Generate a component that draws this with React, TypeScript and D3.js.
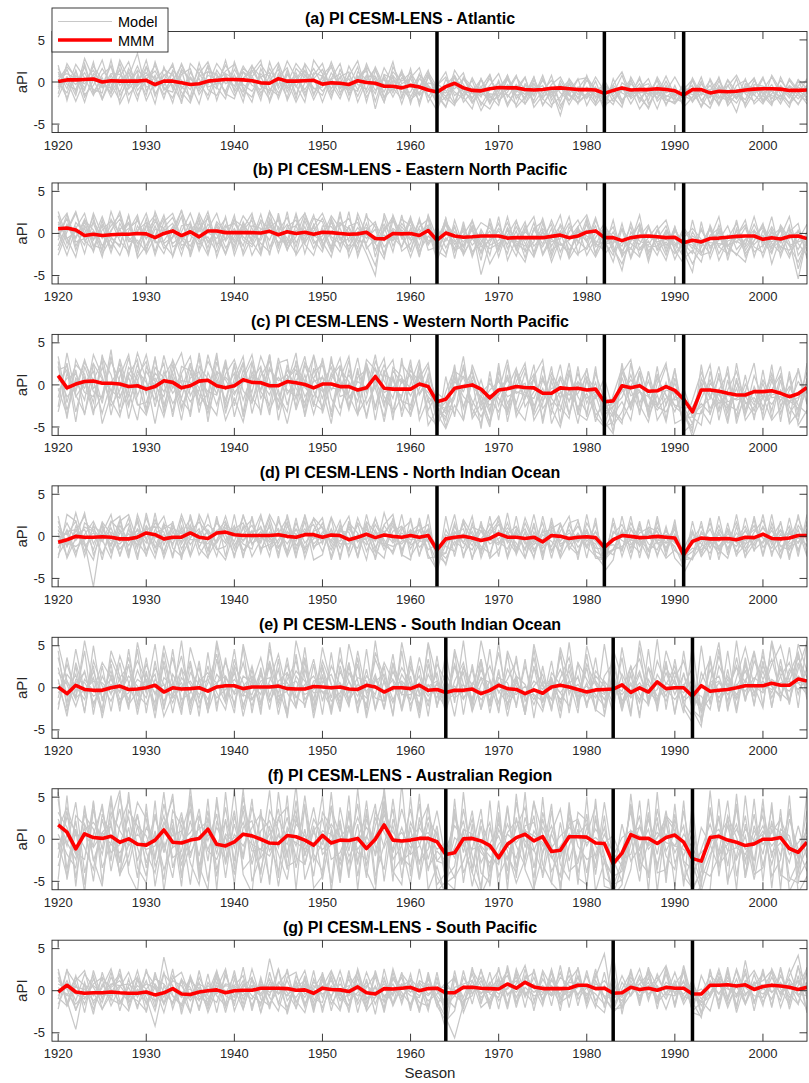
import React from "react";
import * as d3 from "d3";

// seasons on the x axis
const seasons = d3.range(1920, 2006);
const xTicks = [1920, 1930, 1940, 1950, 1960, 1970, 1980, 1990, 2000];
const yTicks = [-5, 0, 5];

const panelTitles = [
  "(a) PI CESM-LENS - Atlantic",
  "(b) PI CESM-LENS - Eastern North Pacific",
  "(c) PI CESM-LENS - Western North Pacific",
  "(d) PI CESM-LENS - North Indian Ocean",
  "(e) PI CESM-LENS - South Indian Ocean",
  "(f) PI CESM-LENS - Australian Region",
  "(g) PI CESM-LENS - South Pacific",
];

// volcanic eruption seasons (vertical black lines)
const northEruptions = [1963, 1982, 1991];
const southEruptions = [1964, 1983, 1992];

// multi-model mean (red)
const atlanticMMM = [
  0.05, 0.25, 0.25, 0.3, 0.35, 0.0, 0.15, 0.1, 0.1, 0.1,
  0.2, -0.3, 0.1, 0.1, -0.1, -0.3, -0.2, 0.1, 0.2, 0.3,
  0.3, 0.25, 0.15, -0.1, -0.15, 0.4, 0.1, 0.1, 0.15, 0.2,
  -0.25, -0.1, -0.15, -0.3, 0.15, -0.05, -0.15, -0.5, -0.5, -0.7,
  -0.4, -0.6, -0.95, -1.2, -0.55, -0.15, -0.7, -1.0, -1.05, -0.8,
  -0.65, -0.7, -0.7, -0.9, -0.95, -0.9, -0.75, -0.7, -0.8, -0.9,
  -0.9, -0.95, -1.35, -1.0, -0.7, -0.95, -0.9, -0.9, -0.8, -0.9,
  -1.05, -1.55, -0.9, -0.9, -1.3, -1.1, -1.15, -1.1, -0.95, -0.85,
  -0.8, -0.8, -0.85, -1.0, -1.0, -0.95,
];
const enpMMM = [
  0.55, 0.65, 0.4, -0.25, -0.1, -0.25, -0.15, -0.1, -0.1, 0.0,
  -0.05, -0.5, 0.0, 0.3, -0.25, 0.2, -0.4, 0.3, 0.3, 0.1,
  0.1, 0.1, 0.1, 0.05, 0.25, -0.15, 0.2, 0.0, 0.15, -0.1,
  0.15, 0.1, 0.0, -0.1, -0.05, 0.15, -0.6, -0.65, 0.0, -0.05,
  0.0, -0.25, 0.35, -0.8, 0.05, -0.3, -0.45, -0.4, -0.3, -0.3,
  -0.3, -0.55, -0.5, -0.5, -0.5, -0.5, -0.35, -0.2, -0.5, -0.3,
  0.15, 0.3, -0.5, -0.5, -0.85, -0.5, -0.35, -0.3, -0.4, -0.5,
  -0.45, -1.1, -0.8, -1.0, -0.6, -0.55, -0.45, -0.35, -0.3, -0.3,
  -0.7, -0.5, -0.65, -0.35, -0.3, -0.6,
];
const wnpMMM = [
  1.1, -0.35, 0.1, 0.4, 0.45, 0.2, 0.2, 0.1, -0.2, -0.1,
  -0.5, -0.2, 0.5, 0.3, -0.35, -0.1, 0.45, 0.55, -0.1, -0.35,
  -0.1, 0.6, 0.3, 0.25, -0.1, -0.1, 0.4, 0.25, 0.05, -0.35,
  0.1, 0.1, -0.2, -0.2, -0.6, -0.35, 1.0, -0.4, -0.5, -0.5,
  -0.5, 0.1, -0.2, -2.0, -1.7, -0.4, -0.2, 0.0, -0.5, -1.55,
  -0.6, -0.45, -0.2, -0.3, -0.35, -1.0, -1.0, -0.35, -0.45, -0.4,
  -0.6, -0.5, -2.0, -1.9, -0.1, -0.35, -0.1, -0.75, -0.7, -0.2,
  -0.65, -1.7, -3.2, -0.6, -0.6, -0.75, -1.0, -1.2, -1.2, -0.8,
  -0.8, -0.7, -1.0, -1.4, -1.05, -0.3,
];
const nioMMM = [
  -0.7, -0.4, 0.0, -0.1, -0.1, -0.05, -0.1, -0.3, -0.3, -0.1,
  0.4, 0.2, -0.3, -0.1, -0.1, 0.4, -0.1, -0.25, 0.4, 0.5,
  0.2, 0.1, 0.1, 0.1, 0.1, 0.2, 0.0, -0.1, 0.2, 0.2,
  -0.1, 0.15, 0.1, -0.4, -0.1, 0.25, -0.15, 0.15, 0.0, -0.1,
  0.1, -0.1, 0.1, -1.6, -0.3, -0.1, 0.0, -0.2, -0.5, -0.25,
  0.3, -0.1, -0.1, -0.25, -0.1, -0.65, 0.1, 0.0, -0.25, -0.1,
  -0.05, -0.15, -1.3, -0.4, 0.1, 0.0, -0.15, -0.1, 0.0, -0.1,
  -0.2, -2.2, -0.6, -0.2, -0.3, -0.3, -0.25, -0.4, -0.1, -0.15,
  0.25, -0.25, -0.3, -0.2, 0.1, 0.1,
];
const sioMMM = [
  0.1, -0.7, 0.3, -0.2, -0.3, -0.3, 0.0, 0.2, -0.2, -0.15,
  0.0, 0.3, -0.5, 0.0, -0.15, -0.1, 0.0, -0.4, 0.1, 0.25,
  0.25, -0.1, 0.1, 0.1, 0.1, 0.2, -0.1, -0.15, -0.15, 0.15,
  0.1, 0.0, 0.1, -0.15, -0.2, 0.3, 0.1, -0.5, 0.0, 0.0,
  -0.1, 0.3, -0.3, -0.2, -0.55, -0.3, -0.3, -0.15, -0.7, -0.3,
  0.3, -0.1, -0.2, -0.7, -0.25, -0.65, 0.1, 0.3, 0.1, -0.2,
  -0.5, -0.25, -0.2, -0.15, 0.35, -0.55, 0.0, -0.5, 0.7, -0.1,
  0.0, 0.0, -1.0, 0.25, -0.4, -0.3, -0.2, 0.0, 0.25, 0.25,
  0.25, 0.55, 0.3, 0.3, 1.05, 0.8,
];
const ausMMM = [
  1.7, 0.85, -1.15, 0.65, 0.2, 0.1, 0.35, -0.35, 0.05, -0.6,
  -0.7, -0.1, 1.1, -0.35, -0.45, -0.1, 0.1, 1.2, -0.6, -0.8,
  -0.3, 0.6, 0.4, 0.0, -0.45, -0.5, 0.45, 0.3, -0.1, -0.7,
  0.45, -0.45, -0.1, -0.15, 0.1, -1.1, 0.0, 1.7, -0.1, -0.2,
  -0.1, 0.1, 0.1, -0.3, -1.8, -1.6, 0.05, 0.1, -0.2, -0.75,
  -2.2, -0.6, 0.2, 0.6, -0.2, 0.3, -1.45, -1.3, 0.3, 0.3,
  0.25, -0.45, -0.5, -2.9, -1.65, 0.55, 0.1, 0.1, -0.5, 0.2,
  0.5, -0.35, -2.3, -2.6, 0.2, 0.35, -0.1, -0.35, -0.75, -0.55,
  0.0, 0.0, 0.2, -1.1, -1.55, -0.35,
];
const spMMM = [
  -0.15, 0.65, -0.15, -0.3, -0.25, -0.25, -0.15, -0.25, -0.3, -0.3,
  -0.15, -0.5, -0.25, 0.25, -0.4, -0.45, -0.15, 0.0, 0.1, -0.25,
  0.0, 0.05, 0.05, 0.3, 0.3, 0.3, 0.25, 0.05, 0.1, -0.3,
  0.3, 0.15, 0.1, -0.1, 0.45, -0.25, -0.4, 0.25, 0.2, 0.3,
  0.4, 0.0, 0.25, 0.3, -0.25, -0.25, 0.4, 0.4, 0.3, 0.25,
  0.2, 0.8, 0.3, 1.0, 0.45, 0.25, 0.25, 0.25, 0.3, 0.65,
  0.65, 0.25, 0.3, -0.3, -0.25, 0.4, 0.15, 0.3, 0.05, 0.4,
  0.3, 0.3, -0.4, -0.4, 0.65, 0.65, 0.7, 0.55, 0.7, 0.15,
  0.5, 0.65, 0.55, 0.4, 0.15, 0.4,
];

// ensemble members (grey), estimated to cover the spread seen in each panel
const atlanticModel = [
  [1.2,-0.8,2.1,0.5,-1.6,0.9,1.8,-0.4,0.6,3.4, -1.1,0.8,-2.0,1.4,0.2,-0.9,1.6,-0.3,2.2,0.7, -0.5,1.9,0.3,-1.7,0.8,2.3,-0.6,1.1,-1.3,0.4, 1.5,-0.8,0.6,-2.2,1.2,0.3,-1.4,1.7,-0.2,0.9, -1.8,0.4,-0.7,-2.4,0.3,-1.2,-2.0,0.5,-1.6,-0.4, 1.0,-1.8,-0.3,-2.1,0.2,-1.4,-0.6,-2.3,0.4,-1.1, -2.0,0.1,-2.6,-0.3,1.2,-1.5,-0.2,-2.2,0.6,-1.3, -0.8,-2.7,0.5,-1.6,-0.4,-2.0,0.3,-1.2,-2.1,0.2, -1.5,-0.3,-2.2,0.4,-1.0,-1.8],
  [-0.6,1.5,-1.2,2.8,0.4,-2.1,0.3,1.4,-1.5,-0.2, 1.8,-1.7,0.9,-0.4,-2.3,1.2,-0.8,2.0,-0.3,1.3, 2.1,-0.9,-1.8,1.0,-0.2,0.6,1.7,-1.5,0.9,-0.7, -1.6,1.1,-0.5,0.7,2.5,-1.3,0.6,-1.9,-0.7,-2.0, 0.8,-1.5,1.2,-0.6,-2.2,1.4,-0.3,-1.9,-0.5,-2.6, -0.7,0.6,-2.0,-0.4,-1.7,0.8,-2.2,-0.5,-1.6,0.3, 0.5,-1.9,-0.4,-2.3,-1.0,0.3,-2.4,-0.6,-1.5,0.7, -1.7,-0.5,-2.3,-0.2,-1.8,0.6,-2.5,-0.4,0.2,-1.6, 0.4,-2.0,-0.6,-1.9,0.3,-0.8],
  [0.3,-1.9,0.8,-0.7,1.9,0.2,-1.3,0.6,2.4,-1.0, 0.4,1.3,-0.6,-1.9,0.9,1.6,-1.5,0.2,-0.8,2.6, -1.2,0.5,1.4,-0.3,-2.1,1.0,-0.8,0.3,2.0,-1.4, 0.6,-2.0,1.5,-0.6,-1.1,2.2,-0.4,0.3,-1.8,0.5, -0.3,-2.3,0.6,-0.9,-1.7,-0.2,1.1,-2.4,-0.7,0.9, -2.4,-0.3,-1.2,0.5,-2.5,-1.0,0.2,-1.3,-2.2,-0.6, -1.1,-2.4,0.2,-1.7,-0.6,-2.6,-0.8,0.4,-2.3,-1.1, 0.6,-1.3,-1.9,0.1,-2.6,-1.1,-0.5,0.8,-1.4,-2.3, -0.9,0.6,-1.5,-2.5,-0.4,0.2],
  [-1.8,0.6,-0.3,1.1,-0.9,-1.3,2.6,-1.6,0.2,1.2, -2.2,0.1,1.5,0.8,-1.2,-2.5,0.7,1.2,1.0,-1.5, 0.9,-1.7,0.6,2.1,0.5,-1.3,0.2,-2.4,-0.1,1.6, -0.4,0.4,-1.6,1.9,-0.3,-0.9,1.8,-0.5,0.7,-2.6, 0.5,1.7,-1.8,-0.2,-1.0,-2.6,-1.3,0.2,-2.8,-0.9, -0.1,-2.9,-0.8,-1.5,0.6,-2.7,-1.1,-3.2,-0.7,-1.9, 0.2,-0.8,-1.6,-2.7,-0.1,-0.9,-1.9,-3.0,-0.4,-2.2, -2.4,-0.9,0.3,-2.2,-3.1,-0.6,-1.6,-2.5,-0.8,0.5, -2.3,-1.4,0.2,-1.2,-2.7,-0.5],
  [0.9,0.2,-2.3,0.3,1.4,-0.5,-0.7,2.2,-0.8,0.4, 1.1,-0.6,0.2,-2.5,1.5,0.3,-0.2,-1.6,1.4,-0.2, 0.3,1.2,-0.4,-0.9,1.6,-0.4,2.5,0.5,-0.9,0.8, 2.2,-1.2,0.1,-0.8,0.6,1.3,-2.3,0.9,0.4,-1.2, -1.2,0.9,-0.4,-1.5,-2.9,-0.3,-1.6,-0.8,-3.4,-1.4, -1.6,-0.9,0.8,-2.6,-1.1,-0.4,-2.7,-1.8,-0.1,-2.0, -0.6,-1.4,-2.0,-1.0,-2.1,-1.3,0.3,-1.6,-1.0,-2.6, -1.2,-1.9,-1.1,-2.9,0.4,-1.7,-2.2,-0.9,-1.2,-1.5, -2.6,-0.7,-1.1,-0.5,-1.6,-2.2],
  [-0.2,-1.3,1.3,-1.5,-0.4,1.6,-0.2,-2.2,1.2,-1.6, 0.2,2.0,-1.0,0.4,-0.5,-1.8,2.3,-0.9,-1.6,0.5, -1.6,0.2,2.0,-0.5,-1.0,0.4,-1.9,1.6,0.5,-2.1, 0.1,1.8,-0.8,0.4,-1.7,0.6,0.7,-1.2,1.2,0.1, 1.1,-0.6,0.9,-1.1,-1.3,0.7,-2.4,-1.1,0.3,-1.9, -0.9,0.4,-1.6,-1.1,-0.2,-2.0,-0.3,0.6,-1.4,-2.5, -1.5,0.6,-1.1,-0.8,-2.5,-0.2,-1.3,-1.0,-1.9,0.1, -2.0,-0.2,-2.4,-0.8,-1.4,-2.6,0.2,-1.8,-0.5,-1.2, -1.0,-1.6,-2.0,0.2,-1.3,-0.4],
  [0.6,1.0,0.4,-0.2,0.8,-0.7,1.0,0.9,-0.4,1.9, -0.6,-0.3,0.7,1.9,-0.8,0.5,-1.1,0.8,0.3,-1.1, 1.5,-0.3,-1.1,0.6,1.1,-2.0,0.9,-0.6,1.3,0.2, -1.1,0.3,1.0,-1.4,0.7,-1.8,-0.1,-2.4,0.8,-0.6, -2.1,-1.2,-0.1,-0.4,0.6,-1.6,-0.8,-2.5,-1.1,0.4, -1.3,-1.5,-2.7,-0.2,-1.5,0.2,-1.5,-0.4,-2.7,-0.8, -1.8,-1.1,-0.3,-1.4,0.8,-2.0,-1.2,-1.4,0.3,-1.8, -0.9,-2.1,-0.7,-1.3,-1.9,0.1,-1.4,-3.6,-0.2,-0.8, -1.2,-2.6,-0.4,-1.6,-0.6,-1.3],
  [1.6,-0.3,-0.9,1.8,-1.2,0.5,-1.8,0.2,1.1,-0.5, 0.8,0.5,-1.5,0.1,2.0,-0.4,0.4,-2.1,0.6,0.9, -0.9,1.6,0.7,-1.3,0.2,1.5,-1.2,0.8,-1.7,1.1, 0.7,-0.2,-2.0,0.9,-0.9,0.8,-1.0,0.5,-1.3,1.2, -0.6,-0.4,-1.6,-3.4,-0.5,-0.8,0.4,-1.4,-1.2,-2.2, -1.8,0.3,-1.0,-1.8,-0.6,-1.7,-1.2,-0.9,0.2,-1.5, -0.8,-1.7,-1.5,-0.4,-1.3,-1.8,-0.6,-0.2,-2.0,-0.5, -1.5,-1.1,-1.5,-1.0,-0.9,-0.8,-1.9,-1.1,-2.6,-0.3, -0.5,-1.1,-1.7,-0.9,-2.0,-0.9],
  [-1.4,2.2,0.4,-1.0,2.4,-2.0,0.8,-1.2,1.6,-0.4, 2.6,-1.4,0.2,2.2,-1.8,0.6,-0.4,1.8,-2.2,1.0, 0.4,-2.4,1.8,0.6,-1.4,2.0,-2.2,0.2,1.4,-1.6, 0.8,2.0,-1.2,-0.4,1.8,-2.4,1.4,-0.6,2.4,-1.8, 1.6,-2.8,0.8,-1.6,-3.0,0.6,-1.8,-3.2,0.4,-2.4, 0.2,-2.6,-0.8,0.6,-3.0,-1.6,0.8,-2.8,-1.2,0.4, -2.8,-0.6,-3.4,0.4,-2.2,-0.8,-3.2,-1.6,0.2,-2.8, -0.4,-3.0,-1.8,0.6,-2.6,-0.4,-2.0,0.4,-3.0,-1.2, 0.6,-2.4,-1.6,-3.0,0.2,-2.2],
  [2.0,-2.2,1.4,-1.8,0.2,2.6,-1.0,1.6,-2.4,0.8, -1.6,2.4,-0.8,-1.2,1.4,-2.2,1.0,2.4,-0.6,-2.0, 2.4,-0.6,-2.4,1.6,-0.8,-1.6,1.4,-2.0,2.2,0.6, -2.4,0.4,2.2,-1.6,0.2,1.6,-3.2,0.8,-1.0,1.4, -2.6,1.0,-2.4,-0.4,1.2,-2.4,0.4,-1.0,-2.4,-3.2, -1.2,0.8,-3.0,-1.8,0.6,-2.8,-0.8,-4.0,-0.2,-2.6, 0.8,-2.6,-0.2,-1.8,-3.0,0.6,-1.4,-3.2,-0.6,-2.0, -2.6,-1.2,-0.4,-3.0,-1.0,0.4,-2.8,-1.4,-2.6,-0.6, -2.4,0.8,-1.0,-2.6,-1.4,0.4],
  [-0.8,0.6,-1.6,2.2,-1.4,-0.4,2.0,-2.6,-0.6,1.4, 0.4,-2.6,1.8,-0.8,2.2,-0.2,-2.6,1.2,0.8,-1.4, -2.0,1.2,0.4,-2.2,2.4,-0.8,1.0,-0.4,-2.4,2.6, 1.0,-1.6,0.6,1.2,-2.4,0.2,1.6,-1.8,0.2,-0.4, -2.2,-0.6,1.4,-2.8,-0.4,0.8,-1.2,-2.0,0.4,-1.6, -2.8,0.8,-1.6,-2.6,-0.2,-2.0,-3.0,0.2,-1.6,-2.4, -1.4,-2.8,-1.4,-0.6,-2.6,0.2,-2.0,-0.8,-3.2,-0.4, -2.4,-1.6,-2.2,-1.4,0.2,-2.6,-1.0,-2.0,0.4,-2.6, -1.6,-2.8,0.6,-1.6,-2.6,-1.2],
  [0.2,1.8,0.6,-2.4,1.0,0.2,-1.4,2.6,0.4,-2.2, 1.8,0.2,-0.4,1.2,-2.6,2.2,1.0,-0.6,-0.2,2.0, 0.2,-1.2,1.2,2.6,-2.4,0.4,-0.2,2.2,0.8,-0.8, -0.6,2.4,-0.4,-1.0,0.4,1.8,0.2,-2.4,1.8,-0.2, 0.4,-1.6,-0.4,-2.6,-1.8,-2.8,0.6,-0.6,-1.8,0.8, -2.2,-1.2,0.6,-1.0,-2.2,0.4,-1.8,-0.2,-2.2,-0.8, 0.6,-1.0,-2.8,-2.0,-0.8,-1.6,0.6,-2.6,-1.2,-1.6, -2.0,-2.4,0.2,-2.2,-1.0,-2.8,-0.4,-2.0,-0.6,0.4, -2.2,-1.0,-2.6,-0.4,-1.2,-2.6],
];
const enpModel = [
  [2.1,-1.2,0.8,-2.4,1.5,-0.6,0.9,2.2,-1.8,0.4, 1.3,-2.6,0.7,1.9,-0.8,1.4,-2.1,0.5,2.4,-0.9, 0.6,-1.5,2.0,-0.3,1.2,-2.3,0.8,1.6,-1.0,0.3, 1.8,-0.7,-2.2,0.9,1.3,-1.4,-3.8,0.6,1.5,-0.5, -1.9,0.8,1.7,-2.6,0.4,-1.3,-0.2,1.5,-2.4,-0.6, 1.2,-1.8,0.3,-2.9,0.6,-0.4,1.1,-2.2,0.2,1.6, -0.8,0.9,-2.5,-1.2,0.5,-3.0,-0.3,1.0,-1.9,0.4, -1.1,-2.8,0.2,-1.6,0.8,-2.4,-0.6,1.2,-2.0,-0.3, 0.7,-1.6,0.4,-2.5,-0.8,1.1],
  [-0.8,2.3,-1.5,0.6,-2.2,1.1,-0.4,-1.6,2.1,-2.9, -1.4,0.9,-1.8,-0.5,2.0,-2.4,1.3,-1.1,0.2,1.8, -2.0,1.4,-0.9,2.3,-1.7,0.8,-0.6,-2.4,1.5,-1.2, -0.3,2.1,0.6,-1.9,-0.6,2.0,0.8,-1.6,-0.4,1.7, 0.9,-2.1,-0.3,-1.4,1.8,-2.2,0.6,-1.4,-0.2,-3.6, -1.6,0.4,-1.9,1.0,-2.3,1.2,-1.5,0.3,-1.2,-2.6, 1.5,-1.4,0.8,-0.4,-2.6,1.3,-1.8,-0.5,0.9,-2.2, 0.3,-1.2,-2.4,0.6,-1.8,0.2,-2.5,-0.2,1.0,-1.6, -2.3,0.5,-1.9,0.9,-4.2,-0.6],
  [0.9,0.4,2.6,-0.9,0.3,-2.8,1.7,-0.2,0.6,1.5, -0.5,-0.3,2.2,-1.6,-1.0,0.7,0.2,2.6,-1.3,-0.6, 1.7,-0.8,-1.6,0.5,0.7,1.6,-2.0,0.4,-0.3,2.2, -1.4,0.2,1.3,0.1,-2.3,0.3,-1.2,1.9,-1.5,0.8, -0.6,1.4,-1.4,0.2,-0.9,0.9,-2.6,-0.4,1.3,0.6, -0.4,-2.4,1.4,-0.8,-0.3,-1.6,0.6,-3.0,0.8,-0.9, -1.9,0.1,0.4,-2.2,-1.0,-0.4,1.1,-2.1,-0.6,0.9, -2.1,0.4,-1.1,-2.3,-0.2,0.6,-1.3,-2.6,-0.7,0.4, -0.9,-2.4,1.0,-0.6,0.3,-2.1],
  [-1.5,1.1,-0.6,1.7,-0.8,0.9,-2.3,1.2,-0.9,0.2, 2.4,-1.1,-0.9,0.8,-1.9,0.3,1.6,-2.3,0.9,-1.7, -0.4,2.1,0.6,-1.2,-2.2,0.3,1.9,-1.1,0.8,-1.8, 0.6,-1.6,2.1,-1.0,0.7,-0.6,0.5,-2.5,0.4,-1.6, 1.8,-0.7,0.5,-3.2,-0.5,-1.8,0.9,-2.2,-1.0,0.3, -2.1,0.7,-0.9,-1.5,1.3,-2.6,-0.6,0.9,-2.0,-0.4, 0.4,-1.6,-0.8,-3.4,0.6,-1.2,-2.0,-0.9,-2.6,0.1, -3.1,-0.6,-1.8,0.4,-1.5,-0.8,0.9,-1.9,-0.7,-1.3, -0.2,-1.8,-0.8,-2.9,0.4,-1.5],
  [1.4,-0.6,0.2,-1.4,2.4,-0.2,-1.6,0.5,1.3,-1.2, 0.2,1.7,-1.3,-2.6,0.9,1.1,-1.0,-0.4,-2.2,0.8, 1.2,-0.4,-1.3,1.6,0.4,-1.1,-0.8,2.2,-2.4,1.1, -0.9,1.3,-0.8,0.8,-1.2,1.2,-2.0,0.3,2.0,-2.1, -1.2,1.6,-0.9,-0.6,1.4,-0.3,-1.6,0.6,-4.9,-1.1, 0.6,-0.7,-2.7,0.6,-1.5,-0.3,-2.4,1.1,-0.6,0.8, -2.6,-0.5,1.2,-1.4,-4.4,0.2,-0.9,-1.4,0.4,-1.4, -0.6,-1.9,-0.3,-1.0,-2.4,1.0,-1.6,0.3,-2.4,-0.9, 1.0,-1.2,-2.3,-0.1,-1.9,0.2],
  [-0.4,1.8,-2.0,0.9,-0.7,2.0,-0.9,-2.6,0.3,2.2, -1.9,0.5,0.3,1.2,-1.4,-0.9,2.4,0.1,-0.6,1.0, -1.1,0.6,2.4,-2.0,1.0,-0.3,1.1,-1.6,1.9,-0.4, 0.3,-2.2,0.9,1.8,-0.8,-1.1,1.2,-0.9,0.6,-0.3, 1.4,-1.6,2.1,-1.9,0.1,-1.0,0.3,-2.6,0.5,-1.4, -0.8,1.3,-1.2,-2.0,0.5,-1.3,1.6,-1.1,-2.4,0.3, -1.0,1.9,-1.5,0.2,-2.1,-0.6,-1.3,0.7,-1.2,-3.2, 0.5,-1.4,-3.6,-1.6,0.5,-1.6,-0.2,-1.1,0.7,-2.2, -1.4,-0.3,0.6,-1.5,-3.4,-0.8],
  [0.5,-1.8,1.3,0.1,1.2,-1.5,0.4,1.7,-0.5,-1.6, 1.0,-0.8,-2.4,0.4,2.7,-0.2,-1.3,1.1,-0.1,-2.5, 0.3,-2.2,0.9,0.6,-0.8,1.9,-1.2,0.1,-0.6,0.9, 2.4,-0.4,-1.2,-0.6,1.9,-1.8,-0.6,1.1,-0.8,1.2, -0.2,0.5,-1.2,0.8,-1.7,0.2,-1.0,0.4,-1.6,-0.8, 0.3,-1.3,0.8,-1.2,-2.8,0.2,-1.0,-0.6,1.2,-1.2, 1.1,-2.3,0.2,-0.8,-1.5,0.8,-2.6,-0.4,-1.0,-0.7, -1.6,0.7,-0.8,-1.2,0.6,-3.2,-0.9,-0.5,-1.3,1.1, -1.1,0.8,-1.1,0.5,-1.2,-2.6],
  [-2.0,0.7,-0.4,1.4,-1.6,0.4,1.5,-0.9,-2.2,0.9, -0.7,1.4,0.6,-1.2,-0.3,-1.5,0.7,-1.7,1.4,0.2, -1.5,0.9,-0.2,-0.8,1.5,-1.4,0.5,0.9,-1.3,-2.6, 0.9,0.8,-0.4,-1.5,0.2,0.7,-1.0,-0.2,-0.9,0.4, -0.8,-0.4,0.8,-1.2,1.1,-2.0,-1.4,0.9,-0.8,-1.8, -1.2,-0.2,-1.5,0.2,-0.8,0.6,-0.7,-1.4,-0.8,0.5, -0.3,-0.9,-1.3,-1.0,-0.8,-1.8,0.4,-1.6,-1.5,0.3, -1.4,-0.5,0.6,-0.7,-1.1,-1.2,-1.4,-0.9,-1.6,-0.2, -0.5,-1.0,-0.4,-1.4,-1.0,-0.6],
  [2.6,-0.6,-2.8,1.6,0.4,-2.0,2.6,-0.4,1.2,-2.6, 0.8,2.2,-1.2,-0.4,2.8,-2.8,0.6,1.8,-1.6,2.0, -2.6,0.4,1.6,-2.4,2.6,0.6,-2.0,1.0,2.4,-0.8, -2.2,1.6,-1.6,2.6,-2.8,0.4,1.4,-2.6,2.2,-0.6, 2.0,-2.6,0.8,-2.0,-2.8,1.6,-1.6,0.8,-3.2,1.8, -1.8,2.0,-2.0,0.4,2.0,-2.4,-0.2,2.2,-2.8,0.8, 2.2,-1.2,-2.0,1.6,-2.8,-1.0,2.2,-3.0,0.4,1.6, -2.0,-3.6,1.6,-2.4,-0.6,2.0,-3.2,0.6,-1.4,2.0, -1.6,2.0,-2.8,0.2,1.2,-3.0],
  [-2.6,0.2,2.4,-0.8,-2.0,1.6,-1.8,0.6,-2.6,2.0, -2.4,-0.4,1.8,-2.8,0.2,2.4,-0.6,-2.6,1.2,-0.8, 2.2,-2.6,-0.4,1.4,-2.6,2.4,-1.8,-0.4,2.4,-0.2, -1.0,-2.8,1.2,0.6,-1.8,2.4,-2.8,0.8,-2.2,2.2, -2.2,1.8,-2.0,-1.6,1.8,-3.0,1.4,-2.8,0.2,-2.6, 2.0,-3.2,-0.6,1.4,-2.6,0.4,-3.4,-0.6,2.0,-2.4, -1.6,1.6,-1.0,-2.6,1.2,-2.8,0.8,-3.4,0.4,-1.8, 0.8,-2.2,-4.6,1.4,-3.0,-0.2,-2.6,1.6,-2.8,-0.8, 1.2,-3.6,-0.4,2.0,-2.6,-1.0],
  [0.2,-2.6,0.6,2.4,-1.4,-1.8,0.2,2.6,-1.0,-0.8, -2.2,2.6,-0.2,0.4,-2.6,1.0,-1.8,2.2,-2.8,0.4, -0.8,1.2,-2.6,-0.4,2.6,-1.8,2.6,-2.6,-0.8,1.8, 1.4,-2.0,2.6,-2.8,-0.2,-2.4,-5.0,2.4,-0.4,-1.6, 0.6,-2.8,2.2,-0.6,-2.4,0.8,-2.2,1.6,-1.4,1.2, -2.8,0.6,-1.8,-3.4,0.6,1.4,-2.8,0.2,-3.0,-1.2, 1.8,-2.6,0.8,-1.8,-3.6,-0.8,1.2,-2.4,-0.4,-2.6, 0.8,-3.0,-2.0,-3.4,1.0,-1.6,-2.4,-0.4,1.6,-2.8, 0.4,-2.2,0.8,-1.0,-5.4,-0.4],
  [1.0,2.4,-1.0,-0.6,2.0,-2.4,-0.6,-1.4,2.2,-2.0, 1.8,-2.2,1.4,2.4,-0.6,-2.2,2.0,-1.0,0.4,-2.4, 1.6,0.8,-1.0,-2.6,1.8,-0.4,-1.4,2.4,-1.2,0.8, -1.8,1.8,-0.6,-2.2,2.4,-0.2,-1.2,-3.0,1.6,0.2, -2.8,0.2,1.0,-2.8,1.4,-0.8,-2.4,-0.6,-2.2,1.2, -1.6,-0.2,1.6,-2.2,-1.0,1.8,-2.0,-1.2,-2.4,0.6, -1.0,-2.8,-0.6,0.8,-2.4,-1.8,-2.8,0.8,-2.0,-1.0, -2.4,-1.0,-1.4,-2.6,-2.2,0.4,-1.8,-2.4,-3.4,0.4, -2.8,0.2,-1.6,-2.0,-0.2,-1.8],
];
const wnpModel = [
  [3.4,-2.1,1.8,-3.6,2.5,0.7,-1.9,3.1,-0.8,-4.2, 2.2,0.4,-2.8,1.6,3.8,-1.3,0.9,-3.0,2.7,-0.5, 1.4,-3.3,2.6,-0.8,-2.4,3.2,-1.1,0.6,-3.5,2.0, -1.7,2.8,0.3,-2.6,1.5,-0.9,3.6,-2.2,0.8,-3.1, 2.4,-1.2,0.5,-4.6,-0.8,1.9,-2.6,0.4,-1.8,-4.4, 1.6,-2.2,-0.3,2.1,-3.2,0.6,-1.5,2.4,-3.6,-0.2, 1.8,-2.8,-4.9,-1.2,2.0,-0.6,-3.1,1.6,-2.4,0.3, -2.6,-3.5,-5.2,0.8,-1.6,2.2,-2.8,0.4,-3.2,1.1, -1.6,0.9,-3.4,-0.6,1.7,-2.3],
  [-1.5,2.6,-3.2,0.9,-2.1,3.3,1.2,-2.7,2.1,0.6, -3.4,2.1,0.8,-2.2,-0.6,2.6,-3.3,1.5,-1.1,3.0, -2.5,1.8,-0.9,3.4,0.6,-2.8,2.4,-1.7,1.2,-2.6, 3.2,-1.6,-3.6,1.8,-1.2,2.5,-0.4,-3.8,2.1,1.0, -3.0,2.6,-2.1,-1.3,-5.0,-0.9,2.0,-2.8,-4.6,0.8, -2.5,1.2,-3.3,-0.6,1.3,-4.1,0.9,-1.6,1.8,-3.6, 0.5,-1.4,-1.0,-5.6,0.9,-2.4,1.6,-3.0,-0.8,2.2, -1.8,-1.2,-3.8,-2.2,-3.4,-0.6,1.4,-4.0,-1.3,-3.1, 0.2,-3.1,1.2,-2.6,-4.3,0.8],
  [0.8,-0.6,2.4,1.3,-3.1,-1.2,2.8,0.4,-2.6,1.7, 0.3,-1.8,3.5,-0.4,1.2,-3.8,2.2,0.7,-2.4,1.3, 3.0,-0.7,-2.2,1.1,2.8,-1.2,-3.2,2.9,-0.3,-1.4, 1.0,-3.2,1.9,0.4,-2.0,3.0,1.8,-1.4,-3.0,0.6, -1.3,0.8,2.6,-3.2,-2.0,-3.4,-0.2,1.6,-3.0,-1.2, -0.8,0.9,-2.2,1.5,-2.5,-0.4,-3.4,0.8,-2.0,1.4, -2.2,0.3,-3.6,-2.6,-1.5,1.2,-2.2,0.5,-2.6,-0.6, -1.0,-4.2,-3.0,0.2,-2.8,-0.9,-3.3,0.6,-2.0,-3.6, -1.5,1.4,-2.5,-1.1,-3.0,-0.4],
  [-3.2,1.4,-0.8,2.7,0.5,-3.4,0.3,1.8,-1.4,2.5, -1.1,3.2,-2.4,0.9,-3.0,0.8,1.6,-1.6,3.4,-2.8, 0.2,2.7,-1.5,-3.1,1.8,0.5,1.2,-2.6,2.4,-0.8, -2.6,1.4,-0.8,2.9,-3.4,-1.5,2.8,0.5,-1.6,2.5, 0.9,-3.5,1.3,-1.8,-3.4,0.8,-1.4,-2.5,0.6,-3.0, 0.8,-2.9,1.3,-1.6,0.8,-2.8,-1.3,1.0,-0.5,-2.7, -1.0,-3.6,-2.4,-3.8,1.6,-1.3,-0.6,-3.2,1.3,-2.4, 0.2,-2.6,-4.6,-1.6,0.6,-1.8,-2.8,-0.4,-3.6,-0.2, -2.6,-0.6,1.2,-3.4,-1.8,1.5],
  [2.2,-3.0,0.6,-1.8,3.6,1.0,-2.5,-0.6,3.2,-1.3, 1.6,-0.2,-1.4,3.0,0.2,-2.0,-0.6,2.8,0.8,-1.8, 2.2,-1.8,1.2,0.4,-1.2,2.2,-2.4,1.4,0.5,-3.5, 0.2,2.1,-1.4,-0.9,3.2,-2.3,-0.2,2.4,-0.6,-1.3, 1.7,0.4,-1.4,-2.6,-4.2,1.6,0.9,-1.9,-3.8,-1.6, -3.2,-0.4,2.0,-2.6,-0.8,0.6,-1.6,-3.1,1.3,-1.4, -3.3,1.4,-1.8,-4.8,-3.2,-0.2,2.1,-1.4,-3.0,-1.6, -0.7,-4.7,-1.8,1.5,-1.2,-3.2,-0.6,1.6,-2.2,-1.5, -3.0,0.5,-1.9,-0.2,-2.4,-3.4],
  [1.8,2.2,-1.4,0.2,1.6,-2.2,3.4,-1.4,0.9,-2.4, -2.1,1.4,0.2,-3.2,2.2,1.7,-1.2,-2.6,1.6,0.6, -1.2,1.0,3.6,-1.6,0.3,-1.9,1.8,-0.4,-2.1,1.6, 2.3,-0.6,0.8,-3.0,0.9,1.8,-2.6,1.2,0.6,-1.9, -2.4,1.3,-3.0,-1.0,-1.8,1.2,-2.8,1.0,-1.0,0.2, -1.6,-3.3,-0.4,0.2,-3.6,-1.4,1.4,-0.6,-3.4,0.3, -0.6,-1.6,0.8,-3.0,-4.2,-2.0,-0.8,-2.6,0.8,-1.2, -3.2,-0.4,-3.4,-3.4,0.2,-1.2,-2.4,-3.0,0.1,-2.0, -1.2,-2.3,-0.6,-2.2,0.4,-1.0],
  [-0.7,0.8,1.3,-0.9,-1.4,2.1,-0.8,2.6,-2.2,1.1, 2.8,-2.6,1.6,-1.0,0.5,0.3,-2.0,3.6,-0.4,0.9, -0.3,2.4,-2.0,1.8,-0.5,0.9,-0.6,-1.4,2.7,0.7, -0.8,1.0,2.3,-1.6,0.4,-0.3,0.9,-2.6,1.7,0.2, 1.2,-1.0,0.8,-3.8,-3.0,0.4,-0.8,1.8,-2.2,-0.6, 0.4,-1.4,-0.8,-1.2,-1.6,1.0,-2.4,-0.9,-1.8,-1.0, 1.0,-0.6,-3.2,-2.6,-0.4,-2.9,0.2,-1.2,-2.6,-3.2, -1.4,-1.8,-3.4,-2.6,-1.6,0.8,-2.0,-1.6,-0.8,-2.4, 0.6,-1.5,-1.4,-1.9,-2.8,0.6],
  [1.2,-1.4,-0.4,3.0,-0.4,0.6,-0.6,-1.6,1.4,0.0, -0.2,0.8,-0.8,1.4,-1.6,2.2,0.6,-0.8,-1.2,2.2, -0.9,0.3,1.0,-0.6,2.0,-0.2,0.8,1.8,-1.4,0.4, 0.9,-0.4,-0.5,1.2,-0.8,-0.6,2.0,-0.9,-0.3,0.8, -0.4,0.2,-0.9,-2.4,-2.8,-1.2,1.0,-0.2,-1.4,-2.4, -1.2,0.6,-1.0,-0.4,0.6,-1.9,-0.4,-0.2,-1.2,0.4, -1.6,-0.8,-2.6,-2.2,-0.8,0.6,-0.8,-1.4,0.8,-1.3, -2.4,-2.8,-2.6,-0.8,-0.4,-2.2,-1.2,-1.8,-1.4,-0.6, -1.4,-1.2,-0.9,-2.0,-1.5,-0.8],
  [-2.6,3.8,-1.2,-3.4,0.6,2.8,-3.6,1.0,3.6,-2.2, -3.6,0.2,2.6,-3.8,1.4,3.4,-2.4,-1.0,3.8,-3.4, 0.8,3.4,-3.4,0.6,-3.6,2.6,3.0,-3.0,0.4,3.4, -3.4,0.6,3.2,-2.6,2.0,-4.0,1.0,3.2,-3.4,-1.4, 3.0,-4.2,-1.6,-5.4,1.0,-3.8,2.4,-4.0,-2.2,-5.0, 2.6,-4.4,0.4,2.6,-4.2,-2.2,2.2,-4.6,1.4,-3.2, 2.0,-3.8,-5.0,-4.4,2.6,-3.0,1.6,-3.8,2.2,-4.2, 1.8,-3.6,-5.6,2.4,-3.6,1.4,-4.2,2.6,-3.0,-0.6, -3.6,2.4,-4.4,1.6,-3.8,2.6],
  [2.8,-4.0,3.0,0.6,-3.6,3.6,-1.8,-3.8,1.2,3.0, -3.0,3.4,-3.4,2.4,-1.8,-3.2,3.8,-2.0,-3.6,2.8, -3.8,0.6,2.8,-3.6,3.6,-3.0,0.2,3.8,-3.8,0.8, 2.8,-3.8,0.8,3.4,-3.6,2.6,-3.0,1.8,-4.2,3.2, -3.8,2.2,-3.6,-4.8,-2.6,2.4,-4.2,0.6,-5.2,1.6, -4.2,2.4,-3.8,-1.6,2.4,-4.6,0.4,-2.6,-4.0,2.2, -3.8,2.2,-5.2,-3.2,-4.6,2.6,-3.6,1.6,-4.2,-2.4, 2.0,-5.6,-4.6,-0.4,2.4,-4.2,0.6,-3.8,1.2,-4.2, 1.8,-4.0,0.6,-4.4,2.0,-2.2],
  [0.4,1.8,-4.4,2.2,-0.8,-1.6,4.2,-3.4,-0.6,3.8, 0.6,-4.6,1.0,2.8,-2.6,-0.4,3.2,-4.4,1.6,-2.4, 2.6,-3.8,1.6,-0.6,3.6,-4.2,0.6,2.4,-2.8,3.6, -0.4,-4.6,2.2,-1.2,-3.6,2.4,-4.2,1.4,3.0,-3.8, 0.2,3.0,-4.8,-2.8,-3.8,-1.6,3.4,-3.6,-1.2,-4.6, -0.8,3.0,-2.8,-4.2,1.0,3.0,-4.6,-1.8,2.6,-3.4, -4.2,-1.2,-4.4,-5.8,1.4,3.0,-2.4,-4.4,0.2,2.6, -4.6,-4.0,-3.8,-4.8,1.6,-3.0,2.2,-4.6,-0.8,2.6, -4.2,-0.8,2.2,-4.6,-3.2,-0.4],
  [-0.4,-3.6,0.8,-0.4,2.6,-4.6,-1.2,2.0,-4.0,0.4, 3.6,-1.0,-3.8,0.6,-4.2,1.4,-0.4,-3.4,0.6,-4.2, -1.6,-4.4,0.6,2.2,-3.0,-0.6,-4.6,0.2,3.4,-2.2, -3.0,3.4,-2.8,0.2,-0.8,-3.6,0.6,-4.4,1.0,-2.0, -3.6,-0.4,2.2,-3.4,-5.2,-2.4,-4.2,2.4,-0.6,-3.4, 2.2,-3.6,1.8,-0.8,-3.2,2.2,-2.8,-5.0,-0.4,-4.6, 0.8,-4.4,-1.0,-3.6,-2.0,-4.2,1.4,-3.8,-1.2,-4.4, 0.8,-2.8,-6.2,-3.0,-4.6,-0.6,-4.6,0.8,-4.2,-2.6, -1.4,-4.2,-2.8,1.0,-4.8,-3.0],
];
const nioModel = [
  [1.8,-1.2,0.6,2.4,-0.9,1.3,-2.0,0.4,1.5,-1.4, 2.2,-0.6,-1.8,1.0,0.3,2.1,-1.3,0.8,-0.7,2.4, -1.1,0.9,2.0,-1.6,0.5,-0.8,1.7,-2.1,0.6,1.4, -0.9,2.3,-0.2,-1.5,1.6,0.4,-1.9,2.8,-0.6,1.1, -1.5,0.7,1.4,-2.8,0.8,-1.1,1.5,-0.4,-1.8,0.9, 2.4,-0.8,0.6,-1.6,1.2,-2.2,0.9,1.6,-1.0,0.4, -1.2,1.5,-2.9,0.3,1.4,-0.8,-1.9,1.1,0.6,-1.4, 0.9,-3.2,-0.4,1.2,-1.4,0.8,-0.6,1.7,-1.5,0.5, 1.9,-1.0,0.7,-1.6,1.3,-0.3],
  [-1.4,0.8,-1.9,0.2,1.8,-0.6,1.0,-1.5,-0.2,0.7, -0.8,1.6,0.5,-2.2,1.2,-1.0,0.6,-1.6,2.0,-0.5, 1.3,-1.7,-0.4,1.2,-1.5,1.8,-0.2,0.9,-1.4,-0.3, 1.6,-1.2,0.8,-0.6,-1.4,1.7,0.5,-1.2,1.3,-1.8, 0.6,-1.3,-0.3,-1.9,-2.0,1.2,-0.8,-1.6,0.7,-0.4, -1.0,1.6,-1.4,0.4,-1.8,0.2,-0.6,-1.8,1.4,-0.7, 0.7,-1.8,-2.4,-1.5,0.6,-1.4,0.9,-0.9,-1.6,0.8, -1.7,-2.6,-1.8,-0.6,0.9,-1.6,-0.4,-1.2,0.8,-1.6, -0.6,1.1,-1.8,0.4,-0.8,1.4],
  [0.4,-2.4,1.2,-0.7,-6.0,0.9,-1.0,2.0,-1.8,0.3, 0.8,1.2,-2.6,0.5,-0.6,1.4,-2.2,-0.4,1.6,0.2, -2.2,0.3,1.3,-0.8,2.2,-1.3,0.6,-0.6,2.4,-1.5, 0.5,-0.5,1.9,-2.4,0.3,-1.0,1.4,-0.4,-2.1,0.8, 1.8,-2.2,0.4,-1.2,-3.4,0.4,0.9,-2.5,-0.4,1.5, -0.6,-1.5,0.9,-0.6,-2.4,0.8,-1.8,0.2,-0.5,-2.0, 1.6,-0.4,-1.6,-2.2,0.3,1.0,-1.2,0.4,-2.2,0.2, -0.8,-1.5,0.7,-1.9,-0.5,-2.1,0.9,-0.8,-0.5,1.3, -1.3,-0.2,1.6,-2.3,0.2,-1.2],
  [-0.9,1.6,-0.5,1.1,0.6,-2.1,0.5,-0.6,2.2,-2.3, 1.1,-2.0,1.3,-1.1,2.6,-0.2,0.9,-2.4,-0.4,1.5, 0.4,-0.9,-1.5,2.2,-0.4,0.9,-1.8,1.6,-0.8,0.5, -1.8,0.9,-1.4,1.2,-0.7,0.8,-0.6,1.3,-0.3,-0.9, 0.3,0.8,-1.6,-0.9,-1.2,-1.8,2.0,0.2,-1.2,-2.0, 0.7,-0.4,-2.0,1.6,-0.8,-1.1,1.6,-1.2,-0.2,1.2, -0.6,0.5,-1.2,-1.0,-1.6,1.6,-0.4,-1.6,1.1,-0.8, 1.2,-2.2,-2.8,0.6,-0.8,1.3,-1.6,-0.2,1.2,-1.1, 0.4,-1.9,-0.6,1.2,-1.6,0.6],
  [0.6,0.2,1.8,-1.8,1.2,0.4,-1.2,1.3,-0.6,1.7, -1.7,0.4,0.9,1.6,-1.5,0.6,1.7,0.3,-1.6,-1.2, 0.9,1.6,-0.8,-0.2,1.1,-2.0,1.2,-0.3,0.9,-0.9, 0.2,-1.6,0.6,0.5,-2.4,1.2,-1.3,0.4,1.9,-0.4, -0.8,1.6,-0.7,-3.0,-0.4,0.5,-0.7,0.6,-1.6,0.2, 1.4,0.4,-0.8,-2.6,0.5,-1.4,0.2,-0.6,0.8,-1.3, -0.2,-0.9,-3.3,0.6,-0.5,-1.0,0.4,1.0,-0.9,-0.2, -1.2,-3.6,0.3,-0.9,-2.0,0.5,-1.4,0.4,-0.9,-0.2, -0.8,0.7,-1.2,-0.6,2.2,-0.6],
  [-2.2,-0.4,0.2,0.8,-1.6,1.7,0.3,-2.2,0.8,-0.6, 0.5,-1.3,-0.5,-0.4,0.9,-2.4,0.3,1.4,0.4,-0.8, 1.0,-0.6,0.7,-1.4,-1.0,0.3,2.2,-1.1,0.2,2.1, -0.5,0.4,-0.9,-0.9,1.4,-1.8,0.8,-1.6,0.6,1.2, -1.0,-0.4,0.9,-1.6,-2.6,-0.6,-1.4,1.1,0.6,-0.9, -0.3,1.0,-0.2,0.9,-1.5,-0.6,-1.2,1.4,-1.6,0.3, -1.4,0.6,-2.0,-1.6,-1.2,-0.4,-0.8,-0.2,0.6,-1.8, 0.3,-2.4,-1.4,-1.6,-0.2,-0.6,0.6,-1.8,-0.2,0.8, -0.2,-1.4,0.3,-1.2,-0.7,0.9],
  [1.2,-0.8,-1.2,-0.4,0.4,-0.6,1.8,0.7,-1.1,0.9, -0.3,2.0,-1.0,1.3,-0.9,0.9,-0.7,-0.9,0.7,0.6, -0.6,2.4,-0.2,0.5,-0.2,-1.4,0.4,0.3,-2.0,0.6, 1.1,-0.8,1.0,-0.3,-0.2,-0.4,2.1,-0.8,-1.2,-0.6, 0.8,-0.6,-0.5,-4.3,0.2,-0.4,0.3,-1.1,1.4,-0.3, -0.8,0.3,1.2,-0.9,-0.6,-0.4,1.2,-0.9,-0.4,-0.6, 0.8,-1.4,-1.5,-0.3,0.2,-0.4,-1.0,0.6,-0.6,0.6, -0.6,-1.8,-0.8,0.3,-0.2,-1.2,0.3,-0.6,-1.8,-0.4, 1.0,-0.5,0.8,-0.9,-0.1,-1.0],
  [-0.5,0.6,0.8,-1.1,-0.2,0.3,-0.5,-0.9,0.3,-1.0, 1.3,-0.2,0.2,-0.8,0.6,-0.4,-0.4,0.6,-0.8,1.0, 0.2,-0.4,0.5,0.9,-0.7,0.5,-0.9,0.8,0.5,-0.2, -0.2,0.3,-0.6,0.9,-0.5,-0.2,0.3,0.6,-0.8,0.4, -0.4,-0.2,0.6,-1.8,-0.8,0.4,-0.2,-0.6,-0.3,0.8, 0.3,-0.6,0.4,-0.2,-1.0,0.5,0.8,-0.5,0.4,-0.5, 0.4,-0.6,-1.8,-0.6,0.5,-0.2,-0.6,0.7,-0.4,-0.8, -0.4,-2.1,-0.8,-0.2,-0.6,0.2,-0.8,-0.4,0.6,-0.4, 0.3,-0.6,-0.3,0.5,-0.8,0.6],
  [2.4,-2.6,-0.2,2.8,-2.2,0.4,2.6,-2.4,1.0,-2.8, 2.8,-1.4,1.6,-2.6,2.2,-2.2,2.6,0.4,-2.4,1.6, -2.6,2.6,-1.0,0.6,-2.4,2.4,-2.2,2.2,-2.6,0.8, 2.2,-2.8,0.6,2.4,-2.6,1.6,-2.8,1.4,2.6,-2.4, 2.2,-2.4,2.6,-3.4,-1.0,2.6,-2.6,1.6,-2.2,2.4, -2.4,2.8,-2.2,0.6,-2.6,2.4,-1.8,0.6,2.4,-2.8, 2.6,-2.2,-3.6,2.2,-1.8,2.4,-2.6,2.0,-2.4,1.2, -2.6,-3.8,1.8,-2.4,2.2,-2.8,1.6,-2.4,2.2,-1.8, 2.6,-2.4,1.8,-2.8,2.6,-2.2],
  [-2.6,2.6,1.8,-2.4,1.4,-2.8,1.6,2.4,-2.2,2.2, -2.4,2.8,-2.2,1.8,-2.8,2.6,-1.4,-2.6,2.4,-2.4, 2.6,-2.6,2.4,-2.0,1.6,-2.6,2.6,-1.6,1.8,-2.8, -2.2,2.2,-2.8,1.8,-2.4,2.6,-1.6,-2.6,2.2,-2.2, -2.8,2.2,-2.2,-4.0,2.4,-2.4,2.0,-2.8,1.8,-2.6, 2.4,-2.4,2.4,-2.6,1.6,-2.8,2.2,-2.4,1.6,2.0, -2.6,2.2,-4.2,-2.8,2.4,-2.0,1.8,-2.6,2.4,-2.4, 2.0,-4.4,-2.4,1.8,-2.8,2.4,-2.2,2.6,-2.6,2.4, -2.2,2.6,-2.6,2.2,-2.4,2.6],
  [0.8,-1.2,2.8,-1.0,-2.8,1.6,-1.8,0.8,-2.6,2.6, -0.4,-2.6,1.4,0.8,-2.2,1.2,-0.6,2.6,-1.4,-2.8, 0.8,-2.2,0.2,2.6,-1.6,-0.4,1.6,-2.6,2.6,-1.2, -0.6,0.8,-2.4,1.6,0.4,-2.8,2.2,-1.0,-1.8,2.6, -2.4,-0.6,0.8,-2.2,-3.2,0.6,-0.8,2.4,-2.6,0.4, 1.8,-2.6,0.4,-1.6,2.6,-2.0,0.6,-2.6,-0.6,1.8, -1.2,-2.4,-2.6,1.6,-2.4,0.8,-0.4,-2.6,1.8,-1.8, 1.4,-2.8,-2.6,-1.2,1.6,-1.6,0.8,-2.2,-1.0,2.0, -2.4,1.6,-1.2,-1.6,0.8,-2.4],
  [-0.2,0.4,-2.4,1.6,0.8,-0.4,-2.6,1.8,2.6,-0.6, -2.2,0.8,2.4,-1.4,-2.4,-0.2,2.2,-1.8,0.6,1.8, -1.6,1.2,-2.4,-0.4,2.6,0.6,-2.4,0.2,-1.6,2.2, 1.0,-2.4,1.4,-1.8,2.2,-0.6,-2.4,0.4,1.6,-1.6, 0.6,1.4,-2.6,-2.4,-2.0,1.6,-2.2,-0.4,1.2,-2.6, -1.6,0.6,-1.8,2.2,-0.6,1.6,-2.6,1.4,-1.2,-2.2, 0.8,-2.6,-2.8,-1.6,0.8,-2.6,1.4,-1.8,-0.6,-2.6, -1.6,-2.6,0.6,-2.4,-0.8,-1.6,-2.6,1.2,-2.4,-0.8, 1.2,-0.6,-2.6,0.8,-1.8,1.8],
];
const sioModel = [
  [2.4,-1.8,4.6,-0.6,1.2,-2.6,3.4,0.8,-1.4,2.1, -0.6,5.2,-2.4,1.6,-0.4,3.2,-1.8,0.6,4.0,-1.2, 1.8,-2.0,0.4,3.6,-1.0,2.2,-2.8,1.4,-0.2,3.4, -1.6,2.6,0.4,-2.2,4.4,-0.8,1.6,-2.4,2.8,0.2, -1.4,3.6,-0.6,1.8,-2.8,0.8,3.0,-1.6,2.2,-0.4, 4.2,-1.2,1.0,-2.6,2.4,0.2,-1.4,3.8,-0.8,1.4, -2.2,2.0,0.6,-3.0,4.8,-1.0,1.6,-1.4,3.2,0.4, 2.6,-1.8,-3.4,1.8,-0.6,3.8,-0.2,2.4,0.6,4.4, -0.4,2.8,5.0,0.8,3.6,1.2],
  [-1.2,2.8,-0.4,2.0,-2.2,1.4,-0.8,3.8,0.6,-2.4, 1.6,-0.8,2.6,-3.0,2.2,0.4,-1.2,2.6,-2.0,1.2, -0.6,3.0,-1.4,0.2,2.4,-2.2,1.0,3.2,-1.4,0.2, 2.6,-1.2,3.4,0.8,-1.8,2.2,-2.6,0.8,-0.4,2.4, 0.6,-2.0,1.6,-0.6,-2.4,2.6,-1.2,0.2,3.4,-2.2, 1.2,0.6,-2.0,2.6,-1.0,-2.8,1.8,0.4,2.0,-1.8, 0.6,-2.6,1.4,3.0,-1.6,0.4,-1.8,2.4,0.4,-1.6, 1.2,3.2,-1.0,-2.2,2.2,-0.6,1.4,-1.2,3.0,-0.6, 2.0,-1.2,1.4,3.0,-0.8,2.4],
  [0.6,-0.6,1.6,-2.8,3.2,0.2,-1.6,1.2,2.6,-0.8, -2.0,1.0,-0.4,3.6,-1.4,-0.6,2.4,-2.8,0.4,3.0, 0.2,-1.0,2.6,-1.8,0.8,4.0,-0.6,-2.4,2.2,-1.4, 3.2,0.4,-2.0,1.8,-0.4,-2.0,3.4,0.6,-1.8,1.6, -0.2,1.4,-2.2,2.8,0.8,-1.2,-0.4,2.2,-2.6,1.0, -1.8,2.2,0.2,-1.2,3.6,-1.6,0.8,-0.6,-2.2,3.0, 1.0,-0.8,-2.2,0.4,-0.4,2.6,-0.8,-2.0,1.6,-0.2, -1.4,0.2,2.4,-4.2,0.6,1.4,-1.6,3.6,-1.2,0.8, 3.8,0.2,-1.0,1.6,4.2,-0.4],
  [1.8,0.4,-2.2,1.0,-0.4,3.0,1.2,-2.0,0.4,3.2, 0.8,-2.4,1.2,0.2,3.8,-1.6,0.8,1.8,-0.6,-2.6, 2.6,0.6,-2.2,1.6,-1.6,0.8,1.8,-0.4,3.6,-2.2, 0.6,1.6,-1.2,3.0,-2.6,0.6,-0.8,3.0,0.8,-2.4, 2.4,-0.6,3.4,-2.0,0.6,-0.2,1.8,-2.8,0.4,2.6, -0.6,1.0,3.2,-1.6,0.2,1.6,-2.4,1.2,3.6,-1.2, 2.8,0.4,-1.4,1.4,-2.6,1.8,3.4,-0.6,-1.4,1.8, -0.8,1.6,-2.2,0.8,3.4,-1.8,0.2,2.6,-1.6,3.2, 1.0,3.4,-0.6,-1.6,2.2,5.4],
  [-2.0,1.6,0.2,-1.4,2.0,-1.2,0.4,-0.4,3.6,-1.0, 2.8,0.2,-1.6,0.6,-2.6,1.8,0.4,-1.4,1.6,0.2, -1.8,1.4,0.6,-0.8,3.2,-1.0,-0.4,2.0,0.8,-0.6, -0.4,-2.4,2.0,-0.6,1.2,0.8,-1.2,-1.6,2.0,-0.8, 3.0,-0.8,0.4,-1.2,1.8,-0.6,2.4,0.2,-1.4,-0.4, 0.6,-0.8,1.4,0.4,-2.0,0.8,-0.2,2.2,-0.4,0.4, -1.0,1.4,0.2,-1.8,1.6,-0.6,0.6,-1.0,-0.2,2.4, 0.4,-0.6,1.0,-2.6,-1.2,0.6,-0.8,0.2,2.0,-0.6, 0.8,-0.6,2.2,0.2,0.6,-0.8],
  [0.2,-2.8,1.0,0.6,-1.0,-0.4,2.0,-1.4,-0.6,1.0, 0.2,1.6,-3.4,-0.8,0.6,-1.8,0.2,1.0,-1.2,-0.2, 1.0,-0.4,-0.8,2.0,-1.6,0.4,0.6,-1.2,0.4,1.4, -0.6,0.2,-1.6,0.8,-1.0,1.4,0.2,-0.4,1.0,-0.8, -0.8,0.6,-1.0,0.4,-1.4,-0.8,0.4,-1.6,1.2,0.6, -0.4,-1.8,0.6,-0.8,-0.8,-1.6,0.6,-0.6,0.8,-1.4, -0.4,0.8,-0.6,0.2,-0.8,0.6,-1.4,1.0,-1.0,-0.4, 0.8,-1.2,0.2,-2.2,0.6,-1.2,1.0,-0.8,0.4,0.2, -0.6,1.0,0.2,-0.4,1.4,0.4],
  [-0.6,0.8,-1.2,-0.2,0.8,0.6,-0.6,0.4,-2.0,-0.4, 1.0,-0.6,0.4,-1.2,0.2,0.8,-0.8,-0.2,0.6,1.4, -0.8,0.2,1.4,-0.2,0.4,-1.6,0.2,0.8,-0.8,-0.2, 0.8,-0.2,0.6,-1.6,0.4,-0.4,1.0,-0.6,0.2,0.8, -0.4,-1.0,0.2,0.8,-0.6,0.2,-1.4,0.6,-0.4,-0.8, 0.4,-0.4,-0.8,0.2,-1.4,0.6,0.4,-1.4,0.2,-0.6, 0.2,-1.2,0.8,-0.6,0.4,-1.2,0.2,0.4,-1.4,0.6, -0.2,0.4,-0.8,-2.8,0.2,0.8,-0.8,0.4,-0.4,1.2, 0.4,-0.2,0.6,0.8,-0.2,1.0],
  [3.6,-1.0,0.6,1.8,-1.8,-0.2,1.0,-0.6,1.4,0.2, -1.2,2.4,0.4,-1.8,1.2,-0.2,-2.4,1.4,0.6,-1.8, 3.4,-0.8,-1.4,0.8,1.2,-0.6,2.8,-1.0,-2.0,0.8, 1.2,-1.6,-0.6,2.4,-0.2,-1.2,0.8,1.6,-1.4,0.6, -2.0,0.2,-1.6,0.6,-1.0,2.8,-0.4,-1.2,1.2,-1.6, 1.8,-2.0,-0.4,-1.0,0.8,-0.2,1.2,-1.8,0.6,1.2, -1.8,-0.2,-0.8,0.8,-2.0,-0.4,2.0,-1.6,0.8,-1.0, 2.0,-1.6,-0.6,-1.0,-2.6,2.6,0.4,-1.4,1.0,-1.0, 2.6,0.2,-1.2,2.2,0.6,0.8],
  [4.4,-2.4,2.6,-3.0,5.0,-1.6,2.8,-2.8,4.6,-2.0, 3.6,-2.8,4.2,-1.2,5.6,-2.6,3.2,-3.0,5.2,-1.4, 4.6,-2.6,2.2,-3.2,5.4,-1.8,3.6,-2.4,4.8,-3.0, 2.4,-2.8,4.8,-2.2,3.6,-3.2,5.6,-1.6,4.0,-2.6, 3.8,-3.0,5.2,-2.4,4.2,-1.8,5.6,-2.8,3.4,-2.2, 5.4,-2.6,3.8,-3.2,4.6,-1.8,3.2,-2.8,5.4,-2.4, 4.0,-2.8,5.2,-1.6,3.6,-3.0,4.8,-2.2,5.8,-2.6, 3.4,-2.4,-4.2,5.0,-2.0,4.6,-2.8,5.6,-1.6,4.2, -2.2,5.4,-1.6,4.8,-2.4,5.6],
  [-2.6,3.6,-1.2,4.4,-3.2,2.6,-2.8,3.0,-2.2,4.6, -3.0,3.2,-2.6,4.6,-2.2,2.8,-3.4,4.2,-2.8,3.6, -2.4,4.8,-3.0,2.4,-2.6,3.4,-3.6,4.0,-2.4,2.8, -3.2,4.2,-2.8,3.0,-3.0,4.6,-2.6,2.6,-3.4,4.4, -2.8,2.6,-3.4,3.8,-2.8,4.2,-3.2,2.8,-2.6,4.6, -3.0,4.0,-2.4,3.4,-3.6,2.6,-2.8,4.4,-3.0,3.0, -2.4,3.6,-3.2,4.0,-2.2,2.6,-3.6,4.6,-2.8,3.2, -3.2,4.4,-2.6,-3.6,3.8,-2.8,4.4,-2.6,3.6,-2.2, 4.6,-2.4,3.4,-2.0,4.2,-1.4],
  [1.0,-3.4,3.0,-0.8,2.6,-3.6,1.6,-2.0,2.8,-3.2, 2.0,-3.6,3.2,-1.0,2.4,-3.2,1.2,-2.8,3.4,-1.6, 2.4,-3.4,1.2,-2.6,3.0,-3.2,1.8,-2.2,3.2,-3.6, 1.6,-3.2,2.6,-1.4,2.8,-3.6,1.4,-2.6,3.0,-2.8, 1.4,-3.6,2.8,-2.2,1.2,-3.4,2.6,-1.8,3.0,-3.0, 2.2,-3.4,1.4,-3.2,2.6,-2.4,1.2,-3.6,2.8,-1.8, 2.4,-2.6,-3.4,2.0,-2.8,1.6,-3.2,2.4,-1.8,3.0, -3.0,1.8,-2.6,-4.6,3.4,-2.8,2.2,-3.0,2.8,-2.0, 3.2,-2.2,2.6,-1.6,3.0,-0.8],
  [5.2,0.8,-1.4,5.6,0.2,-3.0,4.4,1.4,-2.6,5.4, 0.4,-1.8,5.0,0.8,-3.2,4.8,1.0,-2.2,5.6,0.6, -3.0,5.2,0.6,-2.0,4.6,0.2,-3.4,5.6,1.2,-2.4, 4.8,0.4,-2.8,5.2,0.8,-2.4,4.2,1.2,-3.2,5.4, 0.2,-2.6,5.4,1.0,-3.0,4.6,0.4,-2.0,5.6,0.8, -2.8,4.4,1.4,-3.2,5.2,0.6,-2.6,4.8,1.0,-3.0, 5.0,0.8,-2.4,4.6,1.2,-3.4,5.6,0.4,-2.2,4.4, 1.0,-3.0,5.2,-3.0,0.6,5.4,-2.6,1.2,4.8,0.2, -2.4,5.6,1.4,-1.8,5.2,2.0],
];
const ausModel = [
  [4.8,-3.6,2.2,-5.4,3.6,-1.2,5.2,-2.8,1.4,-4.6, 3.2,-2.2,5.6,-3.4,0.8,4.4,-4.8,2.6,-1.8,3.8, -2.6,5.0,-0.6,-4.2,3.4,1.2,-3.6,4.6,-2.0,2.4, 0.4,-5.2,3.8,-1.4,4.2,-3.2,1.6,5.4,-2.4,-0.8, 3.6,-3.0,2.0,-4.4,-6.4,2.8,-1.6,3.4,-4.0,-5.2, 2.6,-3.8,4.4,-1.0,2.8,-4.6,0.8,3.6,-2.6,1.2, -4.0,2.4,-1.8,-6.6,-3.2,4.2,-1.4,3.0,-3.6,2.8, 1.6,-4.4,-5.8,-3.8,3.4,-1.6,4.6,-4.4,1.8,-2.6, 3.8,-2.2,2.6,-4.6,-5.2,2.0],
  [-2.2,3.4,-4.6,1.8,-0.8,4.2,-3.8,1.6,4.6,-1.0, -4.4,3.0,-1.6,2.4,-4.2,-0.6,3.6,-2.6,4.4,-3.0, 1.8,-2.4,3.8,0.2,-4.8,2.6,3.8,-3.4,1.2,-4.4, 3.2,1.4,-2.6,3.0,-4.4,2.4,-0.8,-3.6,4.8,-2.6, -1.6,4.2,-3.8,1.0,-4.6,-3.2,3.6,-2.0,-5.6,1.4, -2.8,4.0,-3.4,2.6,-1.2,-4.0,3.4,-3.0,-4.8,3.2, 2.2,-3.4,4.4,-2.4,-5.0,-0.6,2.8,-4.6,2.0,-2.0, -3.6,3.4,-2.8,-6.2,-2.4,2.6,-3.2,3.8,-4.2,1.6, -1.8,3.6,-4.4,2.4,-1.2,-3.8],
  [0.6,-1.8,-3.4,3.6,-2.6,0.8,2.0,-4.2,-2.0,2.8, -1.6,-4.0,1.6,4.8,-2.4,2.2,-2.0,3.4,-3.6,0.4, -4.2,1.4,2.2,-2.2,-0.4,-3.8,1.4,-0.8,3.6,-1.8, -3.8,3.6,0.4,-2.8,1.8,-4.6,3.4,0.8,-1.2,3.6, -0.4,-2.6,-1.2,3.4,-2.4,-4.6,-2.6,0.6,-1.0,-3.4, 1.2,-1.4,-5.2,-2.4,4.4,0.6,-3.8,-1.6,2.6,-4.0, 0.4,4.0,-2.8,-4.4,-3.8,1.0,-2.0,2.4,-1.8,3.4, -2.8,-0.6,1.4,-3.6,-4.4,-2.0,1.6,-2.4,0.4,-4.8, 0.6,-3.0,1.2,0.4,-3.6,-1.0],
  [3.2,1.4,-1.6,-2.4,4.4,-3.4,-0.4,3.6,-3.2,1.6, -2.8,1.0,-3.6,-0.8,3.2,-2.2,1.8,-5.0,2.2,-1.2, 3.4,-3.6,-2.2,2.8,1.2,-1.8,-4.8,2.4,-0.8,3.8, -1.8,-0.6,2.2,-4.0,0.2,2.8,-2.0,2.2,-3.8,-2.2, -3.2,1.6,4.0,-2.6,-3.0,-1.0,2.2,-3.4,2.4,-1.2, 0.4,-2.4,1.4,3.8,-3.4,2.4,-2.0,-4.4,3.6,-0.8, -2.4,-1.8,1.4,-3.4,-1.6,3.4,-3.8,-0.4,2.6,-4.4, 2.4,-2.6,-3.6,1.4,-0.6,-3.4,2.8,0.2,-2.8,3.0, -3.2,1.2,-2.0,3.4,-2.4,1.4],
  [-1.2,2.6,1.0,-1.0,-3.6,2.4,-1.6,-0.6,2.6,-2.6, 1.4,-0.4,2.8,-2.2,-1.4,3.6,-3.2,0.6,-1.0,2.2, -1.0,3.4,-3.0,1.0,2.2,-1.0,2.6,-2.2,-3.0,1.0, 2.4,-2.4,-1.6,1.2,-1.6,-2.4,2.6,-1.0,1.6,-3.0, 2.0,-0.6,-3.4,-1.4,-2.6,3.0,-0.6,-4.0,1.6,-3.8, -1.6,1.8,-0.8,-3.2,1.0,-0.8,1.6,-2.2,0.6,-2.6, 1.4,-0.8,-2.4,-4.4,1.8,-2.6,-1.0,1.2,-3.0,0.6, -0.8,1.6,-4.6,-1.2,1.8,-1.8,-0.6,1.8,-2.4,-0.4, 1.6,-1.6,-0.4,-2.8,1.6,-2.2],
  [2.4,-0.4,-2.4,2.8,1.2,-1.8,3.2,1.0,-0.8,0.6, -0.6,2.6,-1.0,1.6,-3.0,0.2,1.2,2.2,-0.4,-2.4, 0.6,-0.8,1.4,3.0,-1.4,0.6,-1.6,1.8,0.4,-1.0, 1.0,0.6,-3.0,-0.4,2.6,-0.6,0.4,3.4,0.8,-0.4, 0.2,1.4,-0.4,-2.6,-1.2,1.6,0.2,-1.2,-0.8,-2.0, -3.0,0.8,2.2,-0.2,-1.4,1.4,-1.0,0.4,1.4,0.6, 1.8,-2.2,0.6,-1.6,-3.2,0.8,1.4,-1.2,0.2,1.8, -1.6,0.6,-1.0,-3.2,0.4,1.2,-1.4,-1.0,1.2,-0.2, 0.6,1.6,0.8,-1.8,-0.4,0.8],
  [1.2,3.8,0.4,0.6,-1.0,0.8,-0.6,-1.6,0.2,-0.4, -1.2,-0.8,2.0,0.4,1.0,-1.6,0.4,-1.2,1.4,-0.6, 0.2,0.8,-0.6,-1.2,0.6,2.4,0.2,-0.4,-1.2,0.8, -0.6,1.8,0.2,1.6,-1.2,0.4,-1.6,3.0,-0.2,0.8, -1.0,0.2,0.8,-1.2,-0.4,-2.2,1.2,0.6,-1.6,-2.8, -0.6,0.6,-0.4,1.0,0.4,-0.4,-2.2,-0.8,0.6,0.2, -0.4,0.2,-0.8,-2.0,0.2,1.0,0.4,-0.6,0.8,-0.4, -0.8,-1.2,-2.4,-1.6,-0.4,0.6,-0.6,1.2,-1.2,-0.6, 1.0,-0.8,0.6,-0.2,-2.2,0.4],
  [-3.2,0.6,-1.8,1.2,2.0,0.4,1.6,-2.6,3.4,1.6, 0.4,-2.4,4.2,-1.0,-0.2,0.8,2.8,-1.4,-2.4,0.6, -0.4,2.0,-1.4,-1.2,-2.0,0.4,-0.6,2.8,-1.6,-0.4, -1.2,-0.2,1.4,-2.0,-0.2,1.4,-0.4,4.6,-1.6,1.4, -1.8,-0.8,2.6,0.4,-3.8,0.2,-0.8,2.4,-2.8,-0.6, 1.8,-0.8,-2.2,1.6,2.0,-1.6,0.6,-2.2,1.8,2.4, -0.8,1.2,-0.4,0.4,-2.4,-1.8,1.6,-0.8,0.2,2.6, 1.0,-2.0,0.8,-4.8,-1.8,0.4,2.2,-1.0,-1.8,1.0, -0.6,0.8,2.4,-0.4,-3.0,1.6],
  [5.6,-4.8,1.2,-6.4,4.6,-5.2,2.4,5.8,-4.0,-6.2, 4.2,-5.6,0.6,5.4,-4.6,6.2,-3.2,-6.0,5.0,-2.8, 5.8,-4.2,-6.4,3.6,-5.4,5.6,-2.2,6.4,-4.8,-1.4, 5.2,-6.2,2.2,-4.6,6.0,-3.8,-6.2,4.4,-5.0,6.6, -4.4,5.4,-6.0,-3.2,-6.8,4.8,-5.2,1.8,-6.4,4.6, -6.0,3.8,-4.6,5.6,-5.8,-1.8,4.2,-6.2,3.6,-5.4, 5.0,-6.2,-2.6,-6.8,-5.4,5.4,-3.4,4.8,-6.2,2.4, -5.6,4.6,-6.8,-5.6,5.8,-4.4,2.6,-6.0,5.2,-3.8, 4.8,-5.8,3.6,-6.2,-4.0,5.6],
  [-4.8,5.2,-5.6,4.0,-2.4,-5.6,4.6,-4.4,5.6,-3.4, -5.2,4.6,-6.2,1.4,-5.6,5.2,-4.2,4.8,-6.0,5.6, -3.6,6.0,-5.0,-1.8,5.8,-4.6,5.2,-6.0,4.2,-5.8, -4.4,5.6,-4.8,5.2,-6.0,3.6,-5.4,6.2,-3.8,-5.4, 5.0,-4.6,4.2,-6.2,-5.0,-6.0,5.6,-4.0,-6.6,-4.2, 4.6,-6.0,5.4,-3.6,-6.2,5.0,-5.2,-6.4,4.4,-4.6, -5.4,4.8,-5.6,-6.0,-6.6,-3.6,4.6,-6.2,5.6,-5.2, 4.2,-5.6,4.4,-6.6,-6.0,4.8,-5.4,5.4,-4.6,4.8, -5.0,4.4,-6.0,5.2,-6.4,-4.4],
  [2.0,-0.8,4.4,-4.0,0.6,3.8,-2.6,5.2,-0.4,3.0, -3.4,0.6,-4.8,3.4,1.6,-5.4,2.6,-0.2,3.0,-4.6, 2.8,-2.0,4.8,-5.2,-0.2,3.6,-3.2,-2.6,5.2,-2.6, -0.2,4.0,-4.2,1.4,-3.0,4.6,-4.4,-0.6,3.6,-4.6, 1.4,-4.8,0.4,-5.4,-4.0,3.6,-4.0,-1.2,3.6,-5.6, 3.2,-4.8,2.6,-2.4,4.6,-3.0,-5.2,2.0,-3.8,-2.8, 3.0,-4.2,2.8,-5.6,-2.6,3.8,-2.6,-4.0,3.6,-1.4, 0.8,-5.0,-2.0,-5.2,3.8,-3.0,-1.6,4.2,-4.6,0.2, 2.8,-4.4,-2.4,3.6,-4.6,-2.6],
  [-0.4,-4.4,2.8,1.6,-5.0,3.0,0.2,-4.0,-0.6,4.4, 2.4,-3.2,-0.4,-4.6,2.6,-2.8,-5.4,1.8,-4.4,2.4, -5.4,4.0,0.4,-3.8,1.6,-5.6,0.8,3.4,-3.0,1.6, -4.8,1.2,-5.2,3.4,-2.6,0.2,4.2,-5.0,2.4,-0.8, -5.4,2.6,-2.4,1.6,-5.2,-4.4,1.0,-5.6,-0.4,2.0, -4.4,-2.0,-4.0,1.2,-4.6,3.2,-0.8,-5.4,-0.8,2.2, -5.6,2.8,-4.6,-5.4,-4.8,0.4,-5.0,3.2,-4.0,-3.6, 3.0,-2.8,-6.0,-3.8,-0.8,2.8,-5.0,-2.0,2.8,-4.2, -3.4,2.2,-4.2,-5.0,-2.6,3.4],
];
const spModel = [
  [1.6,-1.2,-4.6,0.8,-0.6,1.4,-1.8,0.4,2.2,-0.8, 1.2,-2.0,4.0,-0.6,-1.6,1.2,0.2,-2.2,1.0,-0.4, 1.8,-1.0,0.6,-1.8,3.8,-0.4,1.2,-1.2,-2.6,1.4, -0.8,1.6,-1.0,0.4,2.2,-1.4,0.6,-2.0,1.4,-0.2, -1.6,1.2,0.6,-1.0,-4.6,1.4,-0.8,2.0,-1.2,0.8, 2.4,-0.6,0.8,3.0,-1.2,1.4,-0.4,2.2,-0.8,1.6, -1.0,1.6,4.4,-2.2,1.0,-0.6,1.8,-0.8,1.2,3.0, -0.4,1.2,-2.4,1.8,-0.6,2.2,-1.0,1.4,-1.6,0.8, 1.2,2.4,-0.6,1.8,4.2,-1.0],
  [-1.0,2.4,0.8,-1.6,1.4,-0.8,0.6,2.0,-1.4,0.2, -1.4,0.8,-0.8,1.8,-0.4,-2.6,1.6,-0.6,-1.4,1.8, -0.6,1.2,-1.8,0.8,-0.6,2.6,-1.2,0.4,1.2,-2.2, 1.2,-0.8,2.4,-1.2,-0.2,1.0,-1.6,1.2,-0.6,2.0, 0.6,-1.4,-1.8,1.0,-0.8,-2.0,1.6,-0.4,1.2,-1.4, 0.8,1.8,-0.8,1.4,2.2,-1.2,0.6,-0.4,1.8,-0.6, 1.8,-1.2,0.6,-1.6,-0.4,1.6,-0.2,1.0,-1.4,-0.2, 0.8,-1.2,1.4,-2.6,1.2,-0.4,1.6,-0.6,2.0,-1.2, 0.4,-1.0,1.8,-0.4,-1.6,2.2],
  [0.4,-0.6,1.6,0.6,-2.2,0.8,-1.0,-1.6,0.6,1.6, -0.8,-4.2,0.6,-1.6,1.2,0.4,-2.0,1.0,-0.6,-1.8, 0.2,-2.2,1.4,-0.4,1.4,-1.4,-2.4,1.8,-0.4,0.2, -2.0,0.6,-0.6,1.4,-1.6,0.4,2.0,-0.8,0.8,-1.2, 1.4,0.2,-1.2,-0.4,1.0,-0.6,-1.4,0.6,-0.4,1.0, -1.2,0.4,1.6,-0.6,0.8,-1.0,1.2,0.2,-0.8,0.6, 0.4,-0.4,-1.6,1.2,-2.0,-0.4,1.4,-0.4,0.6,-1.0, 1.2,-1.6,0.4,-1.8,-0.2,1.2,-2.0,0.8,0.4,-0.6, -0.8,1.6,-0.4,0.6,1.2,-0.4],
  [-0.6,1.2,-1.2,2.0,0.4,-1.4,1.6,-0.2,-1.2,-0.4, 2.2,0.6,-1.4,0.2,-0.8,1.6,-0.6,-1.4,2.2,-0.6, -1.2,0.8,-0.6,-1.4,0.4,0.8,2.2,-1.4,0.6,-1.4, 1.6,-1.6,0.2,0.6,-1.2,2.2,-0.6,-1.2,1.6,0.4, -0.6,-0.8,1.6,-1.8,0.6,1.6,-1.2,-0.6,2.4,-0.4, -0.8,2.6,-1.4,0.4,-0.6,-0.4,1.4,-1.0,0.2,1.0, -0.4,0.4,-0.6,-1.0,1.8,-0.6,0.8,2.0,-0.8,1.0, 0.2,-0.6,-1.2,-0.4,1.8,0.8,-1.2,2.6,-0.4,0.6, 2.0,-0.2,1.0,-0.8,0.6,2.6],
  [0.8,0.2,-0.4,-1.0,0.8,1.6,0.2,-1.4,0.4,-1.8, 0.2,1.4,0.8,-0.6,-1.8,-0.4,0.8,0.2,-0.4,0.8, 0.6,-0.2,-1.0,0.8,-1.6,0.2,-0.6,0.6,-0.8,1.0, 0.2,1.2,-1.2,-0.4,0.8,-0.8,-0.8,0.4,-1.6,0.8, -0.2,1.0,-0.4,0.4,-1.6,0.4,0.8,1.2,-0.8,0.2, 1.4,-0.4,0.4,1.0,-0.2,0.6,-0.6,1.6,0.6,-0.4, 0.6,0.2,1.2,-0.2,-1.2,0.6,-0.6,0.2,1.6,-0.4, -0.6,0.6,0.2,-1.4,-0.8,1.6,0.4,-0.8,1.2,0.2, -0.4,0.8,-0.2,1.4,-0.4,-0.6],
  [-1.6,0.8,0.4,0.2,-1.2,-0.2,0.8,0.6,-0.8,0.6, -0.4,-1.2,-0.2,1.2,0.6,-1.2,0.4,-1.0,0.6,0.0, -0.8,0.6,0.2,-0.6,0.8,-0.4,0.2,-0.8,0.8,-0.6, 0.6,-0.6,0.8,-0.6,0.4,-0.2,0.4,-0.6,0.2,-0.6, 0.2,-0.6,0.8,0.0,-1.8,-0.6,0.6,-0.2,0.2,0.6, -0.4,0.2,1.2,-0.4,0.6,0.2,-0.6,0.2,1.0,0.8, -0.6,0.8,0.2,-0.8,-0.6,0.4,0.8,-0.4,0.2,0.6, 0.4,-0.4,0.8,-1.0,0.6,-0.4,1.2,0.4,-0.6,1.0, 0.6,-0.2,0.8,0.6,-0.6,1.0],
  [0.2,-0.4,-1.6,-0.4,0.6,-0.4,-0.6,0.6,0.8,-0.2, 0.8,0.4,-1.6,0.4,-0.2,0.2,-1.2,0.6,-0.2,0.6, 0.4,-0.6,0.6,0.4,-0.2,0.4,-0.6,1.0,-1.6,0.6, -0.4,0.4,-0.4,0.2,-0.6,0.6,-0.2,0.8,-0.4,0.8, 0.4,0.2,-0.6,0.4,0.4,0.0,0.2,0.6,-0.2,-0.2, 0.6,0.8,-0.2,1.2,0.6,-0.2,0.4,0.2,-0.2,0.4, 0.6,0.4,0.2,-0.2,-0.8,0.8,0.2,0.6,0.4,0.2, -0.2,1.0,-0.4,0.2,-0.6,0.8,0.2,-0.4,0.8,0.6, 0.2,0.8,0.4,0.2,1.0,-0.4],
  [2.6,-1.8,0.6,-0.8,-0.2,-2.2,0.4,1.2,-0.6,-1.2, -2.4,1.8,-0.2,-1.4,1.4,-0.8,-0.2,-1.8,1.6,-2.6, 1.4,-1.6,2.6,-1.0,-1.8,1.0,-0.2,-2.0,1.4,-1.0, -1.4,2.2,-0.4,-2.2,1.6,-2.4,-0.8,1.6,-1.8,0.6, 1.2,-2.2,1.8,-1.2,-3.2,-5.6,-1.6,1.2,-2.0,-1.0, 1.2,-1.6,2.0,-0.8,1.6,-1.2,2.6,-1.4,-0.6,1.8, -1.2,2.0,-0.8,-2.4,0.2,2.2,-1.2,1.6,-1.2,2.0, -1.6,3.0,-1.0,-1.2,-2.4,1.6,-1.6,0.6,-1.6,2.0, -1.4,0.8,-1.2,2.6,-0.6,-2.2],
  [-2.2,2.6,-2.4,1.0,-2.8,2.2,-1.2,2.6,-2.0,1.6, -2.6,2.2,-1.6,2.6,-2.8,1.4,-2.4,2.0,-2.6,2.4, -1.8,2.8,-2.4,1.6,-2.2,2.6,-2.8,1.2,-2.0,2.4, -2.6,1.8,-2.2,2.4,-2.6,1.4,-2.8,2.6,-1.6,2.2, -2.4,2.6,-2.0,1.6,-3.4,2.4,-2.2,2.8,-1.6,2.2, -2.2,3.0,-1.6,2.6,-2.4,2.2,-1.8,3.0,-2.0,2.8, -1.6,2.6,-2.0,4.4,-2.8,2.2,-1.4,2.8,-2.2,2.6, -1.8,2.4,-2.6,-3.0,2.4,-1.8,2.8,-2.2,3.6,-1.6, 2.6,-2.0,2.8,-1.4,3.0,-2.6],
  [2.2,-1.6,1.8,-2.6,2.4,-1.0,2.2,-2.4,1.4,-2.2, 2.6,-1.4,2.2,-2.2,1.2,-2.6,2.4,-1.8,2.0,-1.6, 2.4,-2.2,1.4,-2.6,2.2,-1.6,2.6,-2.2,1.8,-2.6, 2.2,-2.4,1.6,-2.6,2.4,-2.0,1.8,-2.6,2.2,-1.6, 2.0,-2.6,2.2,-1.8,-3.6,-2.4,2.4,-1.6,2.6,-2.2, 2.8,-1.8,2.4,-2.0,2.6,-1.4,2.2,-2.4,2.8,-1.8, 2.4,-1.6,-2.6,2.2,-2.2,2.6,-1.8,2.4,-1.6,2.8, -2.0,2.6,-1.4,-3.2,2.6,-2.2,2.4,-1.8,2.6,-2.4, 2.2,-1.8,2.6,-2.2,1.8,-2.6],
  [-0.8,-1.8,1.2,2.4,-1.6,0.4,2.6,-1.2,-2.4,1.2, 0.2,-2.4,2.0,0.6,-2.2,1.8,-1.0,-0.4,2.4,-2.0, 0.6,1.8,-2.0,1.2,-0.8,-2.4,1.6,2.2,-1.6,0.2, 2.0,-1.0,-2.4,1.8,0.2,-2.2,2.4,-1.4,-0.2,1.6, -2.0,0.8,-2.4,2.2,-2.6,0.2,-1.8,2.4,0.6,-2.0, 1.6,-2.2,2.6,-0.2,-1.6,2.4,0.4,-1.6,2.6,-1.0, 0.4,-2.0,2.2,-2.6,-1.4,0.2,2.6,-1.2,2.0,-0.6, 2.2,-1.0,0.6,-2.8,-0.6,2.6,-0.8,2.4,-1.4,1.0, -1.8,2.6,0.2,-1.6,2.8,0.4],
  [1.2,0.2,-2.2,-0.2,1.8,-2.2,-0.4,1.8,-1.0,2.4, -1.6,0.4,-2.6,1.4,2.2,-0.8,1.0,-2.6,0.2,2.6, -2.4,0.4,1.6,-2.6,1.0,0.6,-2.0,0.4,2.4,-1.8, 0.4,2.4,-0.2,-1.8,2.6,-1.0,0.4,-2.2,2.6,-0.8, 0.6,-2.4,1.4,-0.6,-2.0,1.8,-2.6,0.2,1.6,-1.6, 0.6,2.4,-2.0,1.8,0.4,-1.8,2.4,-0.8,1.2,2.6, -2.0,1.2,-0.8,-2.2,-2.0,1.2,-1.0,2.6,0.4,-2.2, 0.8,2.2,-2.4,-1.4,1.0,-1.2,2.2,-2.6,1.0,2.4, 0.2,2.2,-2.0,1.0,-1.6,2.8],
];

const panels = [
  { title: panelTitles[0], mmm: atlanticMMM, models: atlanticModel, eruptions: northEruptions },
  { title: panelTitles[1], mmm: enpMMM, models: enpModel, eruptions: northEruptions },
  { title: panelTitles[2], mmm: wnpMMM, models: wnpModel, eruptions: northEruptions },
  { title: panelTitles[3], mmm: nioMMM, models: nioModel, eruptions: northEruptions },
  { title: panelTitles[4], mmm: sioMMM, models: sioModel, eruptions: southEruptions },
  { title: panelTitles[5], mmm: ausMMM, models: ausModel, eruptions: southEruptions },
  { title: panelTitles[6], mmm: spMMM, models: spModel, eruptions: southEruptions },
];

const W = 809;
const H = 1083;
const left = 52;
const right = 807;
const top0 = 31.5;
const step = 151.45;
const plotH = 101;
const tickLen = 7.5;
const font = '"Liberation Sans", Arial, Helvetica, sans-serif';
const ink = "#262626";
const grey = "#c8c8c8";

const x = d3.scaleLinear().domain([1919.3, 2005]).range([left, right]);

function Panel({ p, i }: { p: any; i: number }) {
  const top = top0 + i * step;
  const bottom = top + plotH;
  const y = d3.scaleLinear().domain([-6, 6]).range([bottom, top]);
  const line = d3
    .line<number>()
    .x((_, j) => x(seasons[0] + j))
    .y((v) => y(v));
  const clipId = `clip-${i}`;

  return (
    <g>
      <defs>
        <clipPath id={clipId}>
          <rect x={left} y={top} width={right - left} height={plotH} />
        </clipPath>
      </defs>
      <g clipPath={`url(#${clipId})`}>
        {p.models.map((m: number[], k: number) => (
          <path key={k} d={line(m) || ""} fill="none" stroke={grey} strokeWidth={1.25} />
        ))}
        <path
          d={line(p.mmm) || ""}
          fill="none"
          stroke="#ff0000"
          strokeWidth={3.6}
          strokeLinejoin="round"
        />
        {p.eruptions.map((e: number) => (
          <line key={e} x1={x(e)} x2={x(e)} y1={top} y2={bottom} stroke="#000" strokeWidth={3.5} />
        ))}
      </g>

      {/* box and ticks */}
      <rect x={left} y={top} width={right - left} height={plotH} fill="none" stroke={ink} strokeWidth={0.9} />
      {xTicks.map((t) => (
        <g key={t} stroke={ink} strokeWidth={0.9}>
          <line x1={x(t)} x2={x(t)} y1={bottom} y2={bottom - tickLen} />
          <line x1={x(t)} x2={x(t)} y1={top} y2={top + tickLen} />
        </g>
      ))}
      {yTicks.map((t) => (
        <g key={t} stroke={ink} strokeWidth={0.9}>
          <line x1={left} x2={left + tickLen} y1={y(t)} y2={y(t)} />
          <line x1={right} x2={right - tickLen} y1={y(t)} y2={y(t)} />
        </g>
      ))}

      {xTicks.map((t) => (
        <text key={t} x={x(t)} y={bottom + 17} textAnchor="middle" fontSize={13} fill={ink}>
          {t}
        </text>
      ))}
      {yTicks.map((t) => (
        <text key={t} x={45} y={y(t) + 4.6} textAnchor="end" fontSize={13} fill={ink}>
          {t}
        </text>
      ))}
      <text
        transform={`translate(26.5,${y(0)}) rotate(-90)`}
        textAnchor="middle"
        fontSize={15}
        fill={ink}
      >
        aPI
      </text>
      <text x={410} y={top - 7.5} textAnchor="middle" fontSize={16} fontWeight="bold" fill="#000">
        {p.title}
      </text>
    </g>
  );
}

export default function App() {
  return (
    <div style={{ position: "absolute", left: 0, top: 0, width: W, height: H, background: "#fff" }}>
      <svg width={W} height={H} fontFamily={font}>
        <rect width={W} height={H} fill="#fff" />
        {panels.map((p, i) => (
          <Panel key={i} p={p} i={i} />
        ))}
        <text x={430} y={1078} textAnchor="middle" fontSize={15} fill={ink}>
          Season
        </text>

        {/* legend */}
        <g>
          <rect x={52} y={8} width={116} height={44} fill="#fff" stroke={ink} strokeWidth={0.9} />
          <line x1={58} x2={112} y1={21.5} y2={21.5} stroke={grey} strokeWidth={1} />
          <line x1={58} x2={112} y1={40} y2={40} stroke="#ff0000" strokeWidth={3.6} />
          <text x={118} y={26.5} fontSize={14.5} fill="#000">
            Model
          </text>
          <text x={118} y={45.5} fontSize={14.5} fill="#000">
            MMM
          </text>
        </g>
      </svg>
    </div>
  );
}
